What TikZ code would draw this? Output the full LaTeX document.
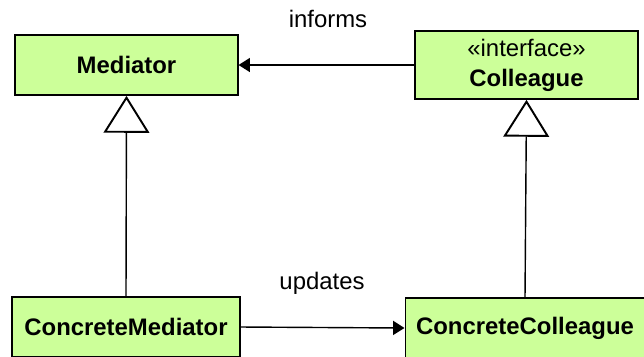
\documentclass[tikz,border=0pt]{standalone}
\usepackage{fontspec}
\setmainfont{Liberation Sans}
\usetikzlibrary{arrows.meta}

\definecolor{classfill}{RGB}{204,255,153}

\tikzset{
  umlclass/.style={draw=black, fill=classfill, line width=1.1pt, align=center,
    font=\fontsize{13.6}{17}\selectfont, inner sep=0pt},
  inherit/.style={line width=0.8pt, -{Triangle[open, length=21pt, width=26pt, line width=1.1pt]}},
  assoc/.style={line width=0.8pt, -{Triangle[length=6.5pt, width=8pt]}},
  lbl/.style={font=\fontsize{13.6}{17}\selectfont}
}

\begin{document}
\begin{tikzpicture}[x=0.02cm, y=-0.02cm]
    \useasboundingbox (0,0) rectangle (644,356);
    \clip (0,0) rectangle (644,356);

    % classes
    \node[umlclass, minimum width=223*0.567pt, minimum height=60*0.567pt] (Mediator) at (126.5,65) {\textbf{Mediator}};
    \node[umlclass, minimum width=223*0.567pt, minimum height=68*0.567pt] (Colleague) at (526.5,65) {«interface»\\\textbf{Colleague}};
    \node[umlclass, minimum width=228*0.567pt, minimum height=60*0.567pt] (CMediator) at (126,327) {\textbf{ConcreteMediator}};
    \node[umlclass, minimum width=240*0.567pt, minimum height=60*0.567pt] (CColleague) at (525,328) {\textbf{ConcreteColleague}};

    % generalisation
    \draw[inherit] (CMediator.north) -- (Mediator.south);
    \draw[inherit] (CColleague.north) -- (Colleague.south);

    % associations
    \draw[assoc] (Colleague.west) -- (Mediator.east);
    \node[lbl] (informs) at (328,19) {informs};
    \draw[assoc] (CMediator.east) -- (CColleague.west);
    \node[lbl] (updates) at (322,283) {updates};
\end{tikzpicture}
\end{document}
